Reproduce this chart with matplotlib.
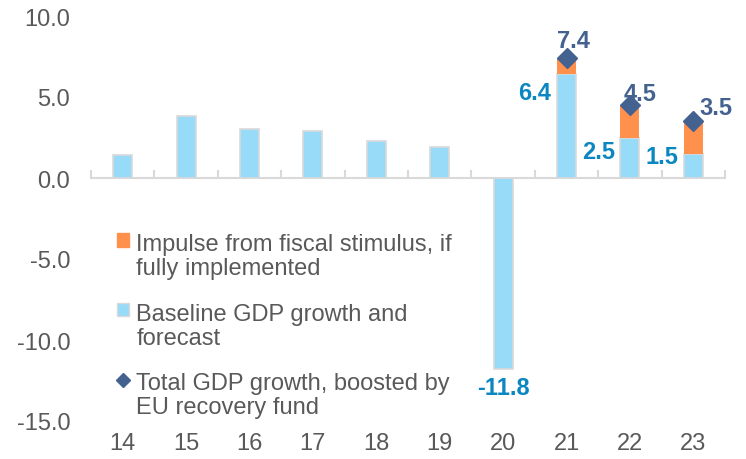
import matplotlib.pyplot as plt
from matplotlib.patches import Patch
from matplotlib.lines import Line2D
import numpy as np

plt.rcParams['font.family'] = ['Liberation Sans', 'DejaVu Sans']

# data
years = ['14', '15', '16', '17', '18', '19', '20', '21', '22', '23']
baseline = [1.4, 3.8, 3.0, 2.9, 2.3, 1.9, -11.8, 6.4, 2.5, 1.5]
total_years = ['21', '22', '23']
total = [7.4, 4.5, 3.5]

# which baseline bars carry a value label, and label offsets (points)
base_lbl_years = ['20', '21', '22', '23']
base_lbl_off = [(0, -5), (-4, -13), (-4, -10), (-4, -2)]
total_lbl_off = [(5, 12.5), (7, 8.5), (16, 10)]

c_base = '#97DBF9'
c_edge = '#D9D9D9'
c_imp = '#FF914D'
c_tot = '#44628F'
c_lbl = '#0A86C0'
c_txt = '#595959'
fs = 17

x = np.arange(len(years))
idx = {y: i for i, y in enumerate(years)}
tx = np.array([idx[y] for y in total_years])
impulse = [t - baseline[i] for t, i in zip(total, tx)]
w = 0.3

fig = plt.figure(figsize=(7.46, 4.6), dpi=100)
ax = fig.add_axes([91 / 746, 38 / 460, 634 / 746, 405 / 460])

ax.bar(x, baseline, width=w, color=c_base, edgecolor=c_edge, linewidth=1.2, zorder=2)
ax.bar(tx, impulse, width=w, bottom=[baseline[i] for i in tx], color=c_imp,
       edgecolor=c_imp, linewidth=0, zorder=2)
ax.plot(tx, total, linestyle='none', marker='D', ms=10.5, color=c_tot, zorder=3)

for y, off in zip(base_lbl_years, base_lbl_off):
    i = idx[y]
    v = baseline[i]
    if v < 0:
        ax.annotate(f'{v:.1f}', xy=(i, v), xytext=off, textcoords='offset points',
                    ha='center', va='top', fontsize=fs, fontweight='bold', color=c_lbl)
    else:
        ax.annotate(f'{v:.1f}', xy=(i - w / 2, v), xytext=off, textcoords='offset points',
                    ha='right', va='center', fontsize=fs, fontweight='bold', color=c_lbl)

for i, v, off in zip(tx, total, total_lbl_off):
    ax.annotate(f'{v:.1f}', xy=(i, v), xytext=off, textcoords='offset points',
                ha='center', va='center', fontsize=fs, fontweight='bold', color=c_tot)

ax.set_xlim(-0.5, len(years) - 0.5)
ax.set_ylim(-15, 10)
ax.set_yticks([10, 5, 0, -5, -10, -15])
ax.set_yticklabels([f'{t:.1f}' for t in [10, 5, 0, -5, -10, -15]])
ax.tick_params(axis='y', length=0, pad=15, labelsize=fs, labelcolor=c_txt)

for s in ['top', 'right', 'left']:
    ax.spines[s].set_visible(False)
ax.spines['bottom'].set_position(('data', 0))
ax.spines['bottom'].set_color(c_edge)
ax.spines['bottom'].set_linewidth(1.5)
ax.spines['bottom'].set_zorder(1)
ax.set_xticks(np.arange(len(years) + 1) - 0.5)
ax.tick_params(axis='x', direction='in', length=6, width=1.5, color=c_edge, labelbottom=False)

sec = ax.secondary_xaxis('bottom')
sec.set_xticks(x, years)
sec.spines['bottom'].set_visible(False)
sec.tick_params(length=0, pad=8, labelsize=fs, labelcolor=c_txt)

handles = [Patch(facecolor=c_imp, edgecolor=c_imp),
           Patch(facecolor=c_base, edgecolor=c_edge),
           Line2D([], [], linestyle='none', marker='D', ms=7, color=c_tot)]
labels = ['Impulse from fiscal stimulus, if\nfully implemented',
          'Baseline GDP growth and\nforecast',
          'Total GDP growth, boosted by\nEU recovery fund']
leg = ax.legend(handles, labels, loc='upper left', bbox_to_anchor=(108 / 746, 1 - 225 / 460),
                bbox_transform=fig.transFigure, frameon=False, fontsize=fs,
                labelcolor=c_txt, handlelength=0.5, handleheight=0.5, handletextpad=0.3,
                labelspacing=0.99, borderaxespad=0)
for t in leg.get_texts():
    t.set_linespacing(1.12)
# put each legend key next to the first line of its label
for col in leg._legend_handle_box.get_children():
    for item in col.get_children():
        item.align = 'top'

fig.savefig('out.png', dpi=100)
